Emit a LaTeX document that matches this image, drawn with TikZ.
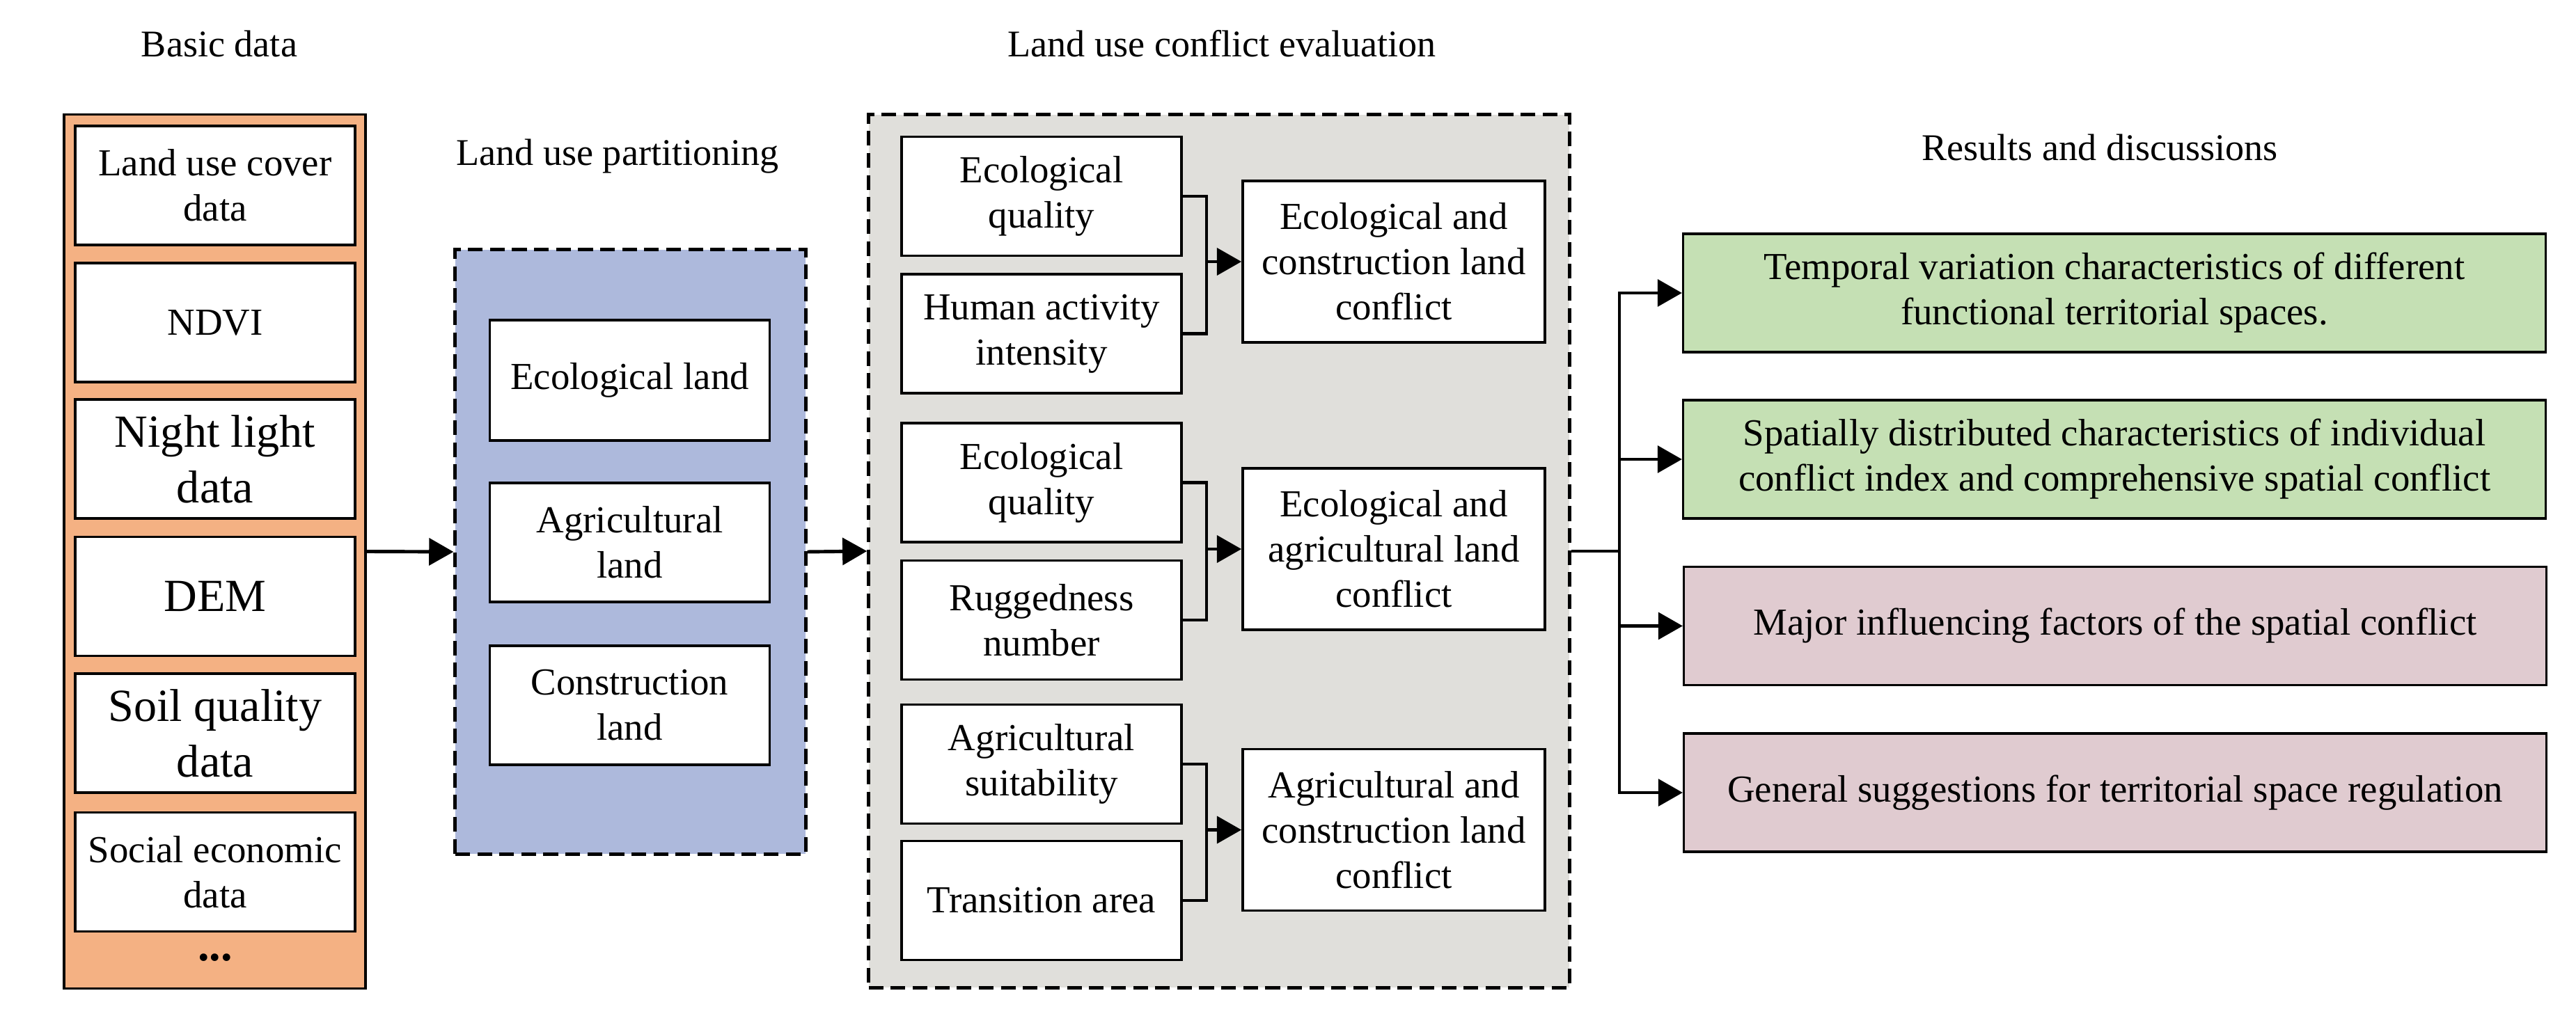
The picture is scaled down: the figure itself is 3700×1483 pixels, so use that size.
\documentclass[tikz,border=0pt]{standalone}
\usepackage{fontspec}
\setmainfont{Liberation Serif}
\usetikzlibrary{arrows.meta}
\definecolor{orangefill}{HTML}{F4B183}
\definecolor{bluefill}{HTML}{ADB9DC}
\definecolor{grayfill}{HTML}{E0DFDB}
\definecolor{greenfill}{HTML}{C5E0B4}
\definecolor{pinkfill}{HTML}{E0CBD0}
\begin{document}
\begin{tikzpicture}[x=0.01cm,y=-0.01cm,
  box/.style={draw, line width=1pt, fill=white, align=center, inner sep=0pt,
    font=\fontsize{15.6}{18.5}\selectfont},
  leftbox/.style={box, minimum width=4.02cm, minimum height=1.71cm},
  confbox/.style={box, minimum width=4.34cm, minimum height=2.32cm},
  resbox/.style={box, minimum width=12.38cm, minimum height=1.70cm},
  bigtxt/.style={font=\fontsize{18.8}{22.8}\selectfont},
  ttl/.style={font=\fontsize{15.4}{18}\selectfont, inner sep=0pt},
  arr/.style={line width=1.4pt, -{Triangle[length=10pt,width=11pt]}},
  conn/.style={line width=1.4pt},
  group/.style={line width=1pt, inner sep=0pt},
  dashgroup/.style={group, draw, line width=1.4pt, dash pattern=on 6pt off 3pt},
]
\useasboundingbox (0,0) rectangle (3700,1483);

% Basic data
\node[ttl] (t1) at (315,63) {Basic data};
\node[group, draw, fill=orangefill, minimum width=4.33cm, minimum height=12.55cm] (basic) at (308.5,792.5) {};
\node[leftbox] (lucd) at (309,266.5) {Land use cover\\data};
\node[leftbox] (ndvi) at (309,463.5) {NDVI};
\node[leftbox, bigtxt] (night) at (309,659.5) {Night light\\data};
\node[leftbox, bigtxt] (dem) at (309,857) {DEM};
\node[leftbox, bigtxt] (soil) at (309,1053.5) {Soil quality\\data};
\node[leftbox] (soc) at (309,1253) {Social economic\\data};
\node[inner sep=0pt, bigtxt] (dots) at (309,1376) {\textbf{...}};

% Land use partitioning
\node[ttl] (t2) at (887,225) {Land use partitioning};
\node[dashgroup, fill=bluefill, minimum width=5.03cm, minimum height=8.68cm] (part) at (905.5,793) {};
\node[leftbox, minimum height=1.73cm] (eland) at (904.5,546.5) {Ecological land};
\node[leftbox] (aland) at (904.5,779.5) {Agricultural\\land};
\node[leftbox] (cland) at (904.5,1013.5) {Construction\\land};

% Land use conflict evaluation
\node[ttl] (t3) at (1755,63) {Land use conflict evaluation};
\node[dashgroup, fill=grayfill, minimum width=10.06cm, minimum height=12.54cm] (eval) at (1751,792) {};
\node[leftbox] (eq1) at (1496,282) {Ecological\\quality};
\node[leftbox] (hai) at (1496,479.5) {Human activity\\intensity};
\node[leftbox] (eq2) at (1496,693.5) {Ecological\\quality};
\node[leftbox] (rug) at (1496,891) {Ruggedness\\number};
\node[leftbox] (asuit) at (1496,1098) {Agricultural\\suitability};
\node[leftbox] (trans) at (1496,1294) {Transition area};
\node[confbox] (c1) at (2002,376) {Ecological and\\construction land\\conflict};
\node[confbox] (c2) at (2002,789) {Ecological and\\agricultural land\\conflict};
\node[confbox] (c3) at (2002,1192.5) {Agricultural and\\construction land\\conflict};

\coordinate (j1) at (1733,376);
\coordinate (j2) at (1733,789);
\coordinate (j3) at (1733,1192.5);
\draw[conn] (eq1.east) -| (j1) |- (hai.east);
\draw[conn] (eq2.east) -| (j2) |- (rug.east);
\draw[conn] (asuit.east) -| (j3) |- (trans.east);
\draw[arr] (j1) -- (c1.west);
\draw[arr] (j2) -- (c2.west);
\draw[arr] (j3) -- (c3.west);

% Results and discussions
\node[ttl] (t4) at (3016,212) {Results and discussions};
\node[resbox, fill=greenfill] (r1) at (3037,421) {Temporal variation characteristics of different\\functional territorial spaces.};
\node[resbox, fill=greenfill] (r2) at (3037,660) {Spatially distributed characteristics of individual\\conflict index and comprehensive spatial conflict};
\node[resbox, fill=pinkfill] (r3) at (3038,899.5) {Major influencing factors of the spatial conflict};
\node[resbox, fill=pinkfill] (r4) at (3038,1139) {General suggestions for territorial space regulation};

% main arrows
\draw[arr] (basic.east) -- (part.west);
\draw[arr] (part.east) -- (eval.west);
\coordinate (bus) at (2326,792);
\draw[conn] (eval.east) -- (bus);
\draw[arr] (bus) |- (r1.west);
\draw[arr] (bus) |- (r2.west);
\draw[arr] (bus) |- (r3.west);
\draw[arr] (bus) |- (r4.west);
\end{tikzpicture}
\end{document}
